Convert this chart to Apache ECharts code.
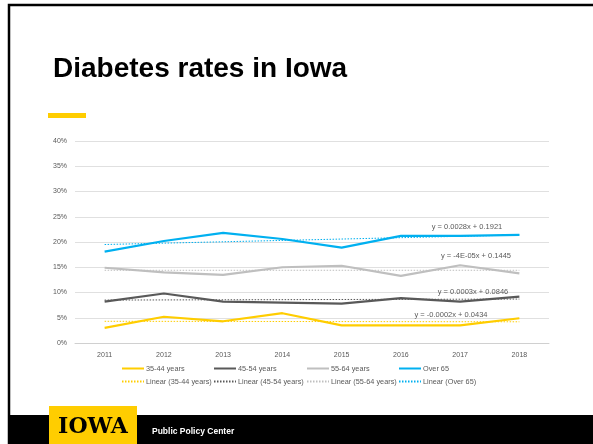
<!DOCTYPE html>
<html>
<head>
<meta charset="utf-8">
<script src="https://cdn.jsdelivr.net/npm/echarts@6/dist/echarts.min.js"></script>
<style>html,body{margin:0;padding:0;background:#fff}#c{width:593px;height:444px}</style>
</head>
<body>
<div id="c"></div>
<script>
const years = ['2011','2012','2013','2014','2015','2016','2017','2018'];
const age3544 = [3.0, 5.2, 4.3, 5.9, 3.5, 3.5, 3.5, 4.9];
const age4554 = [8.2, 9.8, 8.2, 8.0, 7.8, 8.9, 8.2, 9.2];
const age5564 = [14.9, 14.0, 13.5, 15.0, 15.3, 13.3, 15.4, 13.8];
const over65  = [18.1, 20.2, 21.8, 20.6, 18.9, 21.2, 21.2, 21.4];
// trend line end points (first year, last year)
const trend3544 = [4.3, 4.2];
const trend4554 = [8.5, 8.7];
const trend5564 = [14.4, 14.4];
const trendOver65 = [19.5, 21.4];
const equations = ['y = 0.0028x + 0.1921', 'y = -4E-05x + 0.1445', 'y = 0.0003x + 0.0846', 'y = -0.0002x + 0.0434'];
const names = ['35-44 years','45-54 years','55-64 years','Over 65'];
const trendNames = ['Linear (35-44 years)','Linear (45-54 years)','Linear (55-64 years)','Linear (Over 65)'];

const colors = ['#FFCD00', '#595959', '#BFBFBF', '#00B0F0'];
const seriesData = [age3544, age4554, age5564, over65];
const trendData = [trend3544, trend4554, trend5564, trendOver65];

function trendSeries(ends) {
  const arr = years.map(() => null);
  arr[0] = ends[0];
  arr[arr.length - 1] = ends[1];
  return arr;
}

const series = [];
seriesData.forEach((d, i) => {
  series.push({
    name: names[i], type: 'line', data: d, symbol: 'none', z: 3,
    lineStyle: { color: colors[i], width: 2.2 }, itemStyle: { color: colors[i] }
  });
});
trendData.forEach((d, i) => {
  series.push({
    name: trendNames[i], type: 'line', data: trendSeries(d), connectNulls: true, symbol: 'none', z: 4,
    lineStyle: { color: colors[i], width: 1, type: [1.5, 1.5] }, itemStyle: { color: colors[i] }
  });
});

const legendLefts = [116, 208, 301, 393];
const legends = legendLefts.map((l, i) => ({
  left: l, top: 360, orient: 'vertical', itemWidth: 22, itemHeight: 8, itemGap: 6,
  data: [names[i], trendNames[i]],
  itemStyle: { opacity: 0 },
  textStyle: { fontSize: 7.3, color: '#595959', fontFamily: 'Liberation Sans, Arial, sans-serif', padding: [0, 0, 0, -3] }
}));

const eqPos = [[467, 227], [476, 256], [473, 292], [451, 315]];

const chart = echarts.init(document.getElementById('c'), null, { renderer: 'canvas' });
chart.setOption({
  animation: false,
  backgroundColor: '#fff',
  grid: { left: 75, right: 44, top: 141, bottom: 101 },
  xAxis: {
    type: 'category', data: years, boundaryGap: true,
    axisTick: { show: false },
    axisLine: { lineStyle: { color: '#D0D0D0', width: 1 } },
    axisLabel: { fontSize: 7, color: '#595959', margin: 9, fontFamily: 'Liberation Sans, Arial, sans-serif' }
  },
  yAxis: {
    type: 'value', min: 0, max: 40, interval: 5,
    axisLine: { show: false }, axisTick: { show: false },
    splitLine: { lineStyle: { color: '#E0E0E0', width: 1 } },
    axisLabel: { fontSize: 7, color: '#595959', margin: 8, formatter: '{value}%', fontFamily: 'Liberation Sans, Arial, sans-serif' }
  },
  legend: legends,
  series: series,
  graphic: [
    { type: 'rect', shape: { x: 9, y: 5, width: 620, height: 500 }, style: { fill: 'none', stroke: '#000', lineWidth: 2.5 }, z: 10 },
    { type: 'text', left: 53, top: 55, style: { text: 'Diabetes rates in Iowa', font: 'bold 28px "Liberation Sans", Arial, sans-serif', fill: '#000' }, z: 10 },
    { type: 'rect', shape: { x: 48, y: 113, width: 38, height: 5 }, style: { fill: '#FFCD00' }, z: 10 },
    { type: 'rect', shape: { x: 8, y: 415, width: 600, height: 40 }, style: { fill: '#000' }, z: 10 },
    { type: 'rect', shape: { x: 49, y: 406, width: 88, height: 40 }, style: { fill: '#FFCD00' }, z: 11 },
    { type: 'text', x: 93, y: 427, style: { text: 'IOWA', font: 'bold 22px "DejaVu Serif", serif', fill: '#000', align: 'center', verticalAlign: 'middle' }, z: 12 },
    { type: 'text', x: 152, y: 432, style: { text: 'Public Policy Center', font: 'bold 8.5px "Liberation Sans", Arial, sans-serif', fill: '#fff', align: 'left', verticalAlign: 'middle' }, z: 12 }
  ].concat(equations.map((t, i) => ({
    type: 'text', x: eqPos[i][0], y: eqPos[i][1],
    style: { text: t, font: '7.5px "Liberation Sans", Arial, sans-serif', fill: '#595959', align: 'center', verticalAlign: 'middle' }, z: 10
  })))
});
</script>
</body>
</html>
